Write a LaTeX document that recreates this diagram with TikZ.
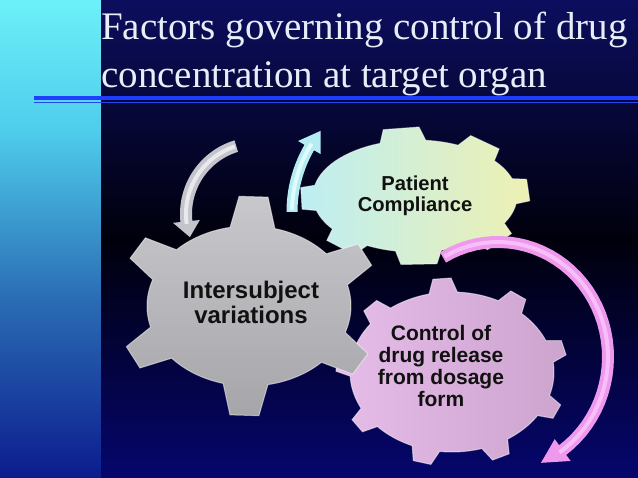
\documentclass[tikz,border=0pt]{standalone}
\usepackage{fontspec}
\setmainfont{Liberation Serif}
\newfontfamily\gearfont{Liberation Sans}

\definecolor{stripA}{HTML}{6CF0F8}
\definecolor{stripB}{HTML}{4FCDEC}
\definecolor{stripC}{HTML}{2A6CB4}
\definecolor{stripD}{HTML}{0C1C8E}
\definecolor{bgA}{HTML}{0C0E5E}
\definecolor{bgB}{HTML}{00000C}
\definecolor{bgC}{HTML}{06066E}
\definecolor{titlecol}{HTML}{E8EEF8}
\definecolor{lineA}{HTML}{1F3DFF}
\definecolor{lineB}{HTML}{2448F0}
\definecolor{grayTop}{HTML}{C8C8CC}
\definecolor{grayBot}{HTML}{A6A6AA}
\definecolor{cyanL}{HTML}{BDEEF2}
\definecolor{cyanR}{HTML}{EEF0B2}
\definecolor{pinkL}{HTML}{E6BCE8}
\definecolor{pinkR}{HTML}{CCA4CE}
\definecolor{grayArr}{HTML}{C4C4CC}
\definecolor{grayArrHi}{HTML}{F2F2F6}
\definecolor{cyanArr}{HTML}{B4ECF2}
\definecolor{cyanArrHi}{HTML}{EAFFFF}
\definecolor{pinkArr}{HTML}{EE98EE}
\definecolor{pinkArrHi}{HTML}{FBC8FB}
\definecolor{labelcol}{HTML}{111111}

% gear outline: #1 a, #2 b, #3 tooth height, #4 half tip angle, #5 half base angle, #6 pairs, #7 first tooth angle
\newcommand{\gearpath}[7]{({#1*cos(#7-#5)},{#2*sin(#7-#5)})
  \foreach \ga/\gb in {#6}{
    -- ({(#1+#3)*cos(\ga-#4)},{(#2+#3)*sin(\ga-#4)})
    -- ({(#1+#3)*cos(\ga+#4)},{(#2+#3)*sin(\ga+#4)})
    -- ({#1*cos(\ga+#5)},{#2*sin(\ga+#5)})
    -- plot[domain=\ga+#5:\gb-#5,samples=16,variable=\myang]({#1*cos(\myang)},{#2*sin(\myang)})
  } -- cycle}

% circular block arrow: #1 cx, #2 cy, #3 rx, #4 ry, #5 half shaft, #6 half head, #7 start, #8 head base, #9 tip
\newcommand{\arrowpath}[9]{plot[domain=#7:#8,samples=40,variable=\myang]({#1+(#3+#5)*cos(\myang)},{#2-(#4+#5)*sin(\myang)})
  -- ({#1+(#3+#6)*cos(#8)},{#2-(#4+#6)*sin(#8)})
  -- ({#1+#3*cos(#9)},{#2-#4*sin(#9)})
  -- ({#1+(#3-#6)*cos(#8)},{#2-(#4-#6)*sin(#8)})
  -- plot[domain=#8:#7,samples=40,variable=\myang]({#1+(#3-#5)*cos(\myang)},{#2-(#4-#5)*sin(\myang)})
  -- cycle}
\newcommand{\arrowmid}[6]{plot[domain=#5:#6,samples=40,variable=\myang]({#1+#3*cos(\myang)},{#2-#4*sin(\myang)})}

\tikzset{
  bevel/.style={draw=white, draw opacity=0.5, line width=1pt, line join=miter},
  graygear/.style={bevel, top color=grayTop, bottom color=grayBot},
  cyangear/.style={bevel, left color=cyanL, right color=cyanR},
  pinkgear/.style={bevel, left color=pinkL, right color=pinkR},
  label/.style={font=\gearfont\bfseries, text=labelcol, align=center, inner sep=0pt},
  titletext/.style={font=\fontsize{39}{48}\selectfont, text=titlecol, inner sep=0pt, anchor=base west}
}

\begin{document}
\begin{tikzpicture}[x=1pt,y=-1pt]
\useasboundingbox (0,0) rectangle (638,478);
% background
\shade[top color=stripA, bottom color=stripB] (0,0) rectangle (101,130);
\shade[top color=stripB, bottom color=stripC] (0,129.5) rectangle (101,300);
\shade[top color=stripC, bottom color=stripD] (0,299.5) rectangle (101,478);
\shade[top color=bgA, bottom color=bgB] (101,0) rectangle (638,240);
\shade[top color=bgB, bottom color=bgC] (101,239.5) rectangle (638,478);
% title
\node[titletext] (title1) at (101,39.5) {Factors governing control of drug};
\node[titletext] (title2) at (101,87.5) {concentration at target organ};
\draw[line width=3.5pt, lineA] (34,98) -- (638,98);
\draw[line width=1.8pt, lineB] (34,102.5) -- (638,102.5);
% gears
\begin{scope}[shift={(415,196)}]
\shade[cyangear] \gearpath{102}{56}{13}{9}{13}{-97/-52,-52/-5,-5/42,42/88,88/131,131/178,178/263}{-97};
\end{scope}
\begin{scope}[shift={(452,372)}]
\shade[pinkgear] \gearpath{102}{80}{14}{4.5}{8}{-95/-55,-55/-15,-15/25,25/65,65/105,105/145,145/185,185/225,225/265}{-95};
\end{scope}
\begin{scope}[shift={(249,306)}]
\shade[graygear] \gearpath{102}{80}{30}{6.3}{12.7}{-148/-88,-88/-28,-28/32,32/92,92/152,152/212}{-148};
\end{scope}
% arrows
\fill[grayArr] \arrowpath{257}{214}{71}{71}{6}{13.5}{107}{186}{199};
\draw[grayArrHi, line width=4pt, opacity=0.8] \arrowmid{257}{214}{71}{71}{108}{188};
\fill[cyanArr] \arrowpath{421}{212}{129}{129}{5.5}{13}{180}{150}{141};
\draw[cyanArrHi, line width=4pt, opacity=0.8] \arrowmid{421}{212}{129}{129}{179}{148};
\fill[pinkArr] \arrowpath{498}{357}{110}{115}{6}{13.5}{120}{-54}{-67};
\draw[pinkArrHi, line width=4pt, opacity=0.8] \arrowmid{498}{357}{110}{115}{119}{-56};
% labels
\node[label, font=\gearfont\bfseries\fontsize{24}{25}\selectfont] (inter) at (251,302) {Intersubject\\variations};
\node[label, font=\gearfont\bfseries\fontsize{20.2}{20.6}\selectfont] (patient) at (415,196) {Patient\\Compliance};
\node[label, font=\gearfont\bfseries\fontsize{21}{21.8}\selectfont] (control) at (441,366) {Control of\\drug release\\from dosage\\form};
\end{tikzpicture}
\end{document}
